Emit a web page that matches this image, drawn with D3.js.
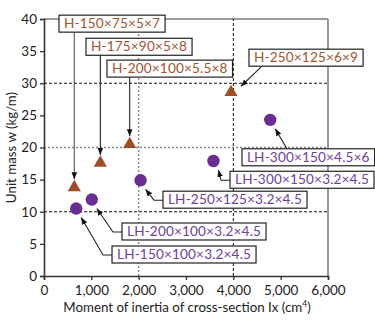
<!DOCTYPE html>
<html>
<head>
<meta charset="utf-8">
<script src="https://cdn.jsdelivr.net/npm/d3@7"></script>
<style>
  html, body { margin: 0; padding: 0; background: #fff; }
  svg { display: block; font-family: "Lato", "Noto Sans", sans-serif; }
</style>
</head>
<body>
<svg id="chart" width="375" height="323"></svg>
<script>
// Section sizes: second moment of area Ix (cm^4) vs unit mass w (kg/m)
const hNames   = ["H-150×75×5×7", "H-175×90×5×8", "H-200×100×5.5×8", "H-250×125×6×9"];
const hIx      = [640, 1190, 1810, 3950];
const hMass    = [13.8, 17.6, 20.5, 28.6];

const lhNames  = ["LH-150×100×3.2×4.5", "LH-200×100×3.2×4.5", "LH-250×125×3.2×4.5", "LH-300×150×3.2×4.5", "LH-300×150×4.5×6"];
const lhIx     = [680, 1010, 2040, 3580, 4780];
const lhMass   = [10.5, 11.9, 14.9, 17.9, 24.3];

const xTicks = [0, 1000, 2000, 3000, 4000, 5000, 6000];
const yTicks = [0, 5, 10, 15, 20, 25, 30, 35, 40];

// Label box placement (top-left corner in data units) and leader style
const hLabelAt  = [[317, 40.6], [887, 37.0], [1331, 33.6], [4331, 35.3]];
const hLeader   = ["down", "down", "down", "slant"];
const lhLabelAt = [[1437, 4.67], [1648, 8.25], [2514, 13.2], [3930, 16.3], [4183, 19.8]];
const lhLeader  = ["elbow", "elbow", "elbow", "elbow", "up"];

const svg = d3.select("#chart");
const m = { left: 44, right: 47, top: 19, bottom: 47 };
const W = 375, H = 323;

const x = d3.scaleLinear().domain([0, 6000]).range([m.left, W - m.right]);
const y = d3.scaleLinear().domain([0, 40]).range([H - m.bottom, m.top]);

const brown = "#9e4e26", purple = "#6a2d91";
const brownText = "#a0552f", purpleText = "#7040a0";

// arrowhead
svg.append("defs").append("marker")
  .attr("id", "arrow").attr("viewBox", "0 0 10 10")
  .attr("refX", 10).attr("refY", 5)
  .attr("markerWidth", 7).attr("markerHeight", 7)
  .attr("markerUnits", "userSpaceOnUse")
  .attr("orient", "auto")
  .append("path").attr("d", "M0,1 L10,5 L0,9 Z").attr("fill", "#111");

// frame: top and right
svg.append("line").attr("x1", x(0)).attr("x2", x(6000)).attr("y1", y(40)).attr("y2", y(40))
  .attr("stroke", "#7a7a7a").attr("stroke-width", 1.5);
svg.append("line").attr("x1", x(6000)).attr("x2", x(6000)).attr("y1", y(40)).attr("y2", y(0))
  .attr("stroke", "#7a7a7a").attr("stroke-width", 1.5);

// reference grid lines
const grid = svg.append("g");
const hGrid = [[30, "#111", "3,2", 1], [20, "#888", "2,2", 1.4], [10, "#111", "3,2", 1]];
hGrid.forEach(([v, c, d, w]) => grid.append("line")
  .attr("x1", x(0)).attr("x2", x(6000)).attr("y1", y(v)).attr("y2", y(v))
  .attr("stroke", c).attr("stroke-dasharray", d).attr("stroke-width", w));
const vGrid = [[2000, "#888", "2,2", 1.4], [4000, "#111", "3,2", 1]];
vGrid.forEach(([v, c, d, w]) => grid.append("line")
  .attr("x1", x(v)).attr("x2", x(v)).attr("y1", y(0)).attr("y2", y(40))
  .attr("stroke", c).attr("stroke-dasharray", d).attr("stroke-width", w));

// axes
const xAxis = svg.append("g").attr("transform", `translate(0,${y(0)})`)
  .call(d3.axisBottom(x).tickValues(xTicks).tickFormat(d3.format(",")).tickSize(4).tickPadding(5));
const yAxis = svg.append("g").attr("transform", `translate(${x(0)},0)`)
  .call(d3.axisLeft(y).tickValues(yTicks).tickSize(4).tickPadding(3));
[xAxis, yAxis].forEach(g => {
  g.select(".domain").attr("stroke", "#333").attr("stroke-width", 1.6);
  g.selectAll(".tick line").attr("stroke", "#333").attr("stroke-width", 1.3);
  g.selectAll("text").attr("fill", "#222").style("font-size", "13.5px")
    .style("font-family", "Lato, 'Noto Sans', sans-serif");
});

// axis titles
const xt = svg.append("text").attr("x", (x(0) + x(6000)) / 2 + 1).attr("y", 312)
  .attr("text-anchor", "middle").attr("fill", "#222").style("font-size", "13.3px");
xt.append("tspan").text("Moment of inertia of cross-section Ix (cm");
xt.append("tspan").attr("dy", -5).style("font-size", "8.5px").text("4");
xt.append("tspan").attr("dy", 5).text(")");
svg.append("text")
  .attr("transform", `translate(16,${(y(0) + y(40)) / 2}) rotate(-90)`)
  .attr("text-anchor", "middle").attr("fill", "#222").style("font-size", "13.3px")
  .text("Unit mass w (kg/m)");

// leaders + labels
const ann = svg.append("g");
const labels = svg.append("g");
function drawLabel(name, ix, w, at, kind, color) {
  const bx = x(at[0]), by = y(at[1]);
  const g = labels.append("g");
  const rect = g.append("rect").attr("fill", "#fff").attr("stroke", "#222").attr("stroke-width", 1.2);
  const t = g.append("text").attr("fill", color).style("font-size", "13.6px")
    .style("letter-spacing", "0.15px")
    .attr("x", bx + 5).attr("y", by + 13).text(name);
  const bb = t.node().getBBox();
  const bw = bb.width + 10, bh = 17;
  rect.attr("x", bx).attr("y", by).attr("width", bw).attr("height", bh);

  const px = x(ix), py = y(w);
  let pts;
  if (kind === "down") pts = [[px, by + bh], [px, py - 8]];
  else if (kind === "slant") pts = [[bx + 13, by + bh], [px + 10, py - 6]];
  else if (kind === "up") pts = [[bx + 45, by], [px + 5, py + 9]];
  else pts = [[bx, by + 9], [bx - 9, by + 9], [px + 5, py + 9]];
  ann.append("path").attr("d", d3.line()(pts)).attr("fill", "none")
    .attr("stroke", kind === "down" && name === "H-150×75×5×7" ? "#555" : "#222")
    .attr("stroke-width", 1.1).attr("marker-end", "url(#arrow)");
}
hNames.forEach((n, i) => drawLabel(n, hIx[i], hMass[i], hLabelAt[i], hLeader[i], brownText));
lhNames.forEach((n, i) => drawLabel(n, lhIx[i], lhMass[i], lhLabelAt[i], lhLeader[i], purpleText));

// markers
const tri = d3.symbol().type(d3.symbolTriangle).size(75);
svg.append("g").selectAll("path").data(hIx).join("path")
  .attr("d", tri)
  .attr("transform", (d, i) => `translate(${x(d)},${y(hMass[i])})`)
  .attr("fill", brown);
svg.append("g").selectAll("circle").data(lhIx).join("circle")
  .attr("cx", d => x(d)).attr("cy", (d, i) => y(lhMass[i]))
  .attr("r", 6.2).attr("fill", purple);

// keep labels above leaders and points
labels.raise();
</script>
</body>
</html>
